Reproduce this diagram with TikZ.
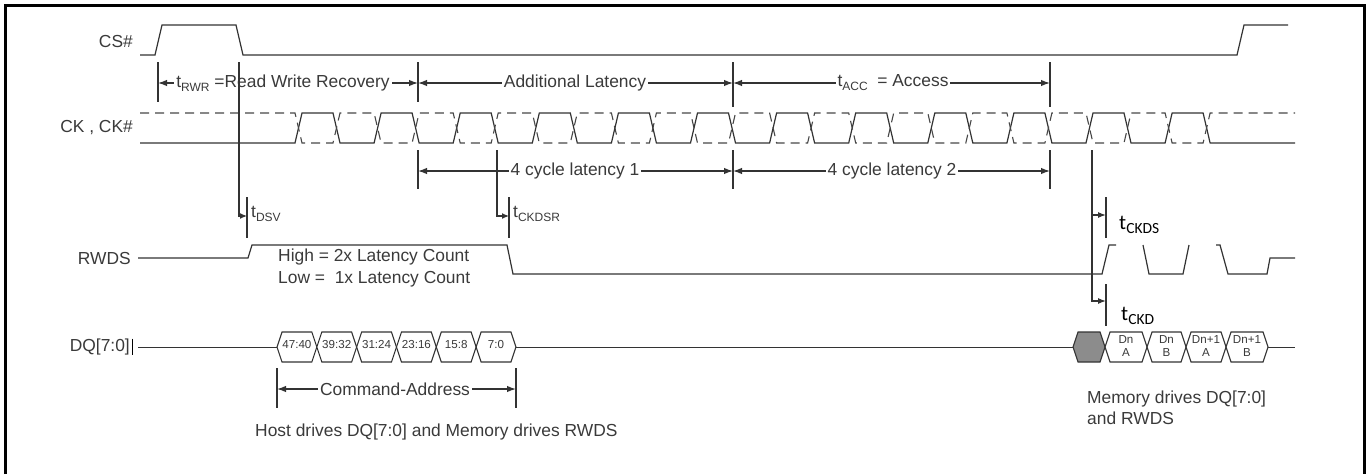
\documentclass[tikz,border=0pt]{standalone}
\usepackage{fontspec}
\setmainfont{Liberation Sans}
\newfontfamily\calfont{Carlito}
\usetikzlibrary{arrows.meta}
\definecolor{ink}{HTML}{333333}
\definecolor{txt}{HTML}{3A3A3A}
\definecolor{busgray}{HTML}{8C8C8C}
\newcommand{\lowidx}[1]{\raisebox{-0.45ex}{\fontsize{12}{12}\selectfont #1}}
\newcommand{\calidx}[1]{\raisebox{-0.4ex}{\fontsize{15.5}{15.5}\selectfont #1}}

\begin{document}
\begin{tikzpicture}[x=1pt,y=-1pt,
  font=\fontsize{17.4}{21}\selectfont,
  >={Latex[length=9pt,width=6.5pt]},
  sig/.style={line width=1.2pt, draw=ink},
  markline/.style={line width=1.4pt, draw=ink},
  dimline/.style={line width=1.3pt, draw=ink, <->},
  lbl/.style={fill=white, inner xsep=2pt, inner ysep=1pt, text=txt},
  siglbl/.style={anchor=east, inner sep=0pt, text=txt},
  note/.style={anchor=west, inner sep=0pt, text=txt, align=left},
  busbox/.style={line width=1.1pt, draw=ink, fill=white},
  bustxt/.style={font=\fontsize{11.6}{13}\selectfont, text=txt, align=center, inner sep=0pt}
]
  \useasboundingbox (0,0) rectangle (1370,474);

  % frame
  \draw[line width=3pt] (5,474) -- (5,5) -- (1364,5) -- (1364,474);

  % signal names
  \node[siglbl] (csName)   at (133,42)  {CS\#};
  \node[siglbl] (ckName)   at (133,128) {CK , CK\#};
  \node[siglbl] (rwdsName) at (131,259) {RWDS};
  \node[siglbl] (dqName)   at (130,347) {DQ[7:0]};
  \draw[line width=1pt] ([xshift=2pt]dqName.north east) -- ([xshift=2pt]dqName.south east);

  % chip select
  \draw[sig] (140,55) -- (155,55) -- (162,25) -- (236,25) -- (243,55)
             -- (1237,55) -- (1244,25) -- (1288,25);

  % clock and its complement
  \draw[sig] (140,143) \foreach \k in {0,...,11}{
      -- ({295+79.1*\k},143) -- ({302+79.1*\k},113)
      -- ({333+79.1*\k},113) -- ({340+79.1*\k},143)} -- (1295,143);
  \draw[sig, line width=1.1pt, draw=ink!90, dash pattern=on 9pt off 6pt] (140,113) \foreach \k in {0,...,11}{
      -- ({295+79.1*\k},113) -- ({302+79.1*\k},143)
      -- ({333+79.1*\k},143) -- ({340+79.1*\k},113)} -- (1295,113);

  % read write data strobe
  \draw[sig] (138,258) -- (248,258) -- (252,245) -- (507,245) -- (513,274)
             -- (1102,274) -- (1109,245) -- (1116,245);
  \draw[sig] (1143,245) -- (1149,274) -- (1183,274) -- (1189,245);
  \draw[sig] (1216,245) -- (1220,245) -- (1228,274) -- (1267,274) -- (1270,258) -- (1295,258);
  \node[note, font=\fontsize{17.4}{22}\selectfont] (latNote) at (278,268)
       {High = 2x Latency Count\\Low = \ 1x Latency Count};

  % data bus
  \draw[sig, line width=1pt] (138,347) -- (277,347);
  \draw[sig, line width=1pt] (516,347) -- (1073,347);
  \draw[sig, line width=1pt] (1268,347) -- (1295,347);
  \foreach \lab [count=\i from 0] in {47:40,39:32,31:24,23:16,15:8,7:0}{
    \pgfmathsetmacro\bl{277+39.83*\i}
    \draw[busbox] (\bl,347) -- ({\bl+5},332) -- ({\bl+34.83},332) -- ({\bl+39.83},347)
                  -- ({\bl+34.83},362) -- ({\bl+5},362) -- cycle;
    \node[bustxt] (cmd\i) at ({\bl+19.9},345) {\lab};
  }
  \draw[busbox, fill=busgray] (1073,347) -- (1078,332) -- (1100,332) -- (1105,347)
                              -- (1100,362) -- (1078,362) -- cycle;
  \foreach \dTop/\dBot/\bl/\br [count=\i] in {Dn/A/1105/1147, Dn/B/1147/1186,
                                               Dn+1/A/1186/1226, Dn+1/B/1226/1268}{
    \draw[busbox] (\bl,347) -- ({\bl+5},332) -- ({\br-5},332) -- (\br,347)
                  -- ({\br-5},362) -- ({\bl+5},362) -- cycle;
    \node[bustxt] (dat\i) at ({(\bl+\br)/2},346) {\dTop\\\dBot};
  }

  % timing marks
  \coordinate (rwrStart) at (158,83);
  \coordinate (rwrEnd)   at (418,83);
  \coordinate (addEnd)   at (733,83);
  \coordinate (accEnd)   at (1050,83);
  \coordinate (latStart) at (418,171);
  \coordinate (latMid)   at (733,171);
  \coordinate (latEnd)   at (1050,171);
  \coordinate (caStart)  at (277,389);
  \coordinate (caEnd)    at (516,389);

  \draw[markline] (158,62) -- (158,102);
  \draw[markline] (418,62) -- (418,102)  (418,150) -- (418,189);
  \draw[markline] (733,62) -- (733,107)  (733,150) -- (733,189);
  \draw[markline] (1050,62) -- (1050,107) (1050,150) -- (1050,189);
  \draw[markline] (247,197) -- (247,238);
  \draw[markline] (509,197) -- (509,238);
  \draw[markline] (1106,197) -- (1106,238);
  \draw[markline] (1106,284) -- (1106,326);
  \draw[markline] (277,368) -- (277,408);
  \draw[markline] (516,368) -- (516,408);

  % latency arrows
  \draw[dimline] (rwrStart) -- (rwrEnd);
  \draw[dimline] (rwrEnd) -- (addEnd);
  \draw[dimline] (addEnd) -- (accEnd);
  \draw[dimline] (latStart) -- (latMid);
  \draw[dimline] (latMid) -- (latEnd);
  \draw[dimline] (caStart) -- (caEnd);
  \node[lbl] (rwrTxt) at (283,83)  {t\lowidx{RWR} =Read Write Recovery};
  \node[lbl] (addTxt) at (575,83)  {Additional Latency\hspace{10pt}};
  \node[lbl] (accTxt) at (893,83)  {t\lowidx{ACC} \ = Access};
  \node[lbl] (lat1Txt) at (575,171) {4 cycle latency 1\hspace{8pt}};
  \node[lbl] (lat2Txt) at (892,171) {4 cycle latency 2\hspace{8pt}};
  \node[lbl] (caTxt)  at (395,389) {Command-Address};

  % setup and delay times
  \coordinate (dsvTop)   at (239,62);
  \coordinate (dsvTip)   at (247,216);
  \coordinate (ckdsrTop) at (497,150);
  \coordinate (ckdsrTip) at (509,216);
  \coordinate (ckdsTop)  at (1092,150);
  \coordinate (ckdsTip)  at (1106,215);
  \coordinate (ckdTip)   at (1106,301);
  \draw[sig, -{Latex[length=7pt,width=6pt]}] (dsvTop) |- (dsvTip);
  \draw[sig, -{Latex[length=7pt,width=6pt]}] (ckdsrTop) |- (ckdsrTip);
  \draw[sig, -{Latex[length=8pt,width=6pt]}] (ckdsTop) |- (ckdsTip);
  \draw[sig, -{Latex[length=8pt,width=6pt]}] (ckdsTop) |- (ckdTip);
  \node[note] (dsvTxt)   at (251,214) {t\lowidx{DSV}};
  \node[note] (ckdsrTxt) at (513,214) {t\lowidx{CKDSR}};
  \node[note, text=black, font=\calfont\fontsize{21}{21}\selectfont] (ckdsTxt) at (1119,225) {t\calidx{CKDS}};
  \node[note, text=black, font=\calfont\fontsize{21}{21}\selectfont] (ckdTxt)  at (1121,316) {t\calidx{CKD}};

  % who drives the bus
  \node[note] (hostNote) at (255,432) {Host drives DQ[7:0] and Memory drives RWDS};
  \node[note] (memNote)  at (1087,408) {Memory drives DQ[7:0]\\and RWDS};
\end{tikzpicture}
\end{document}
